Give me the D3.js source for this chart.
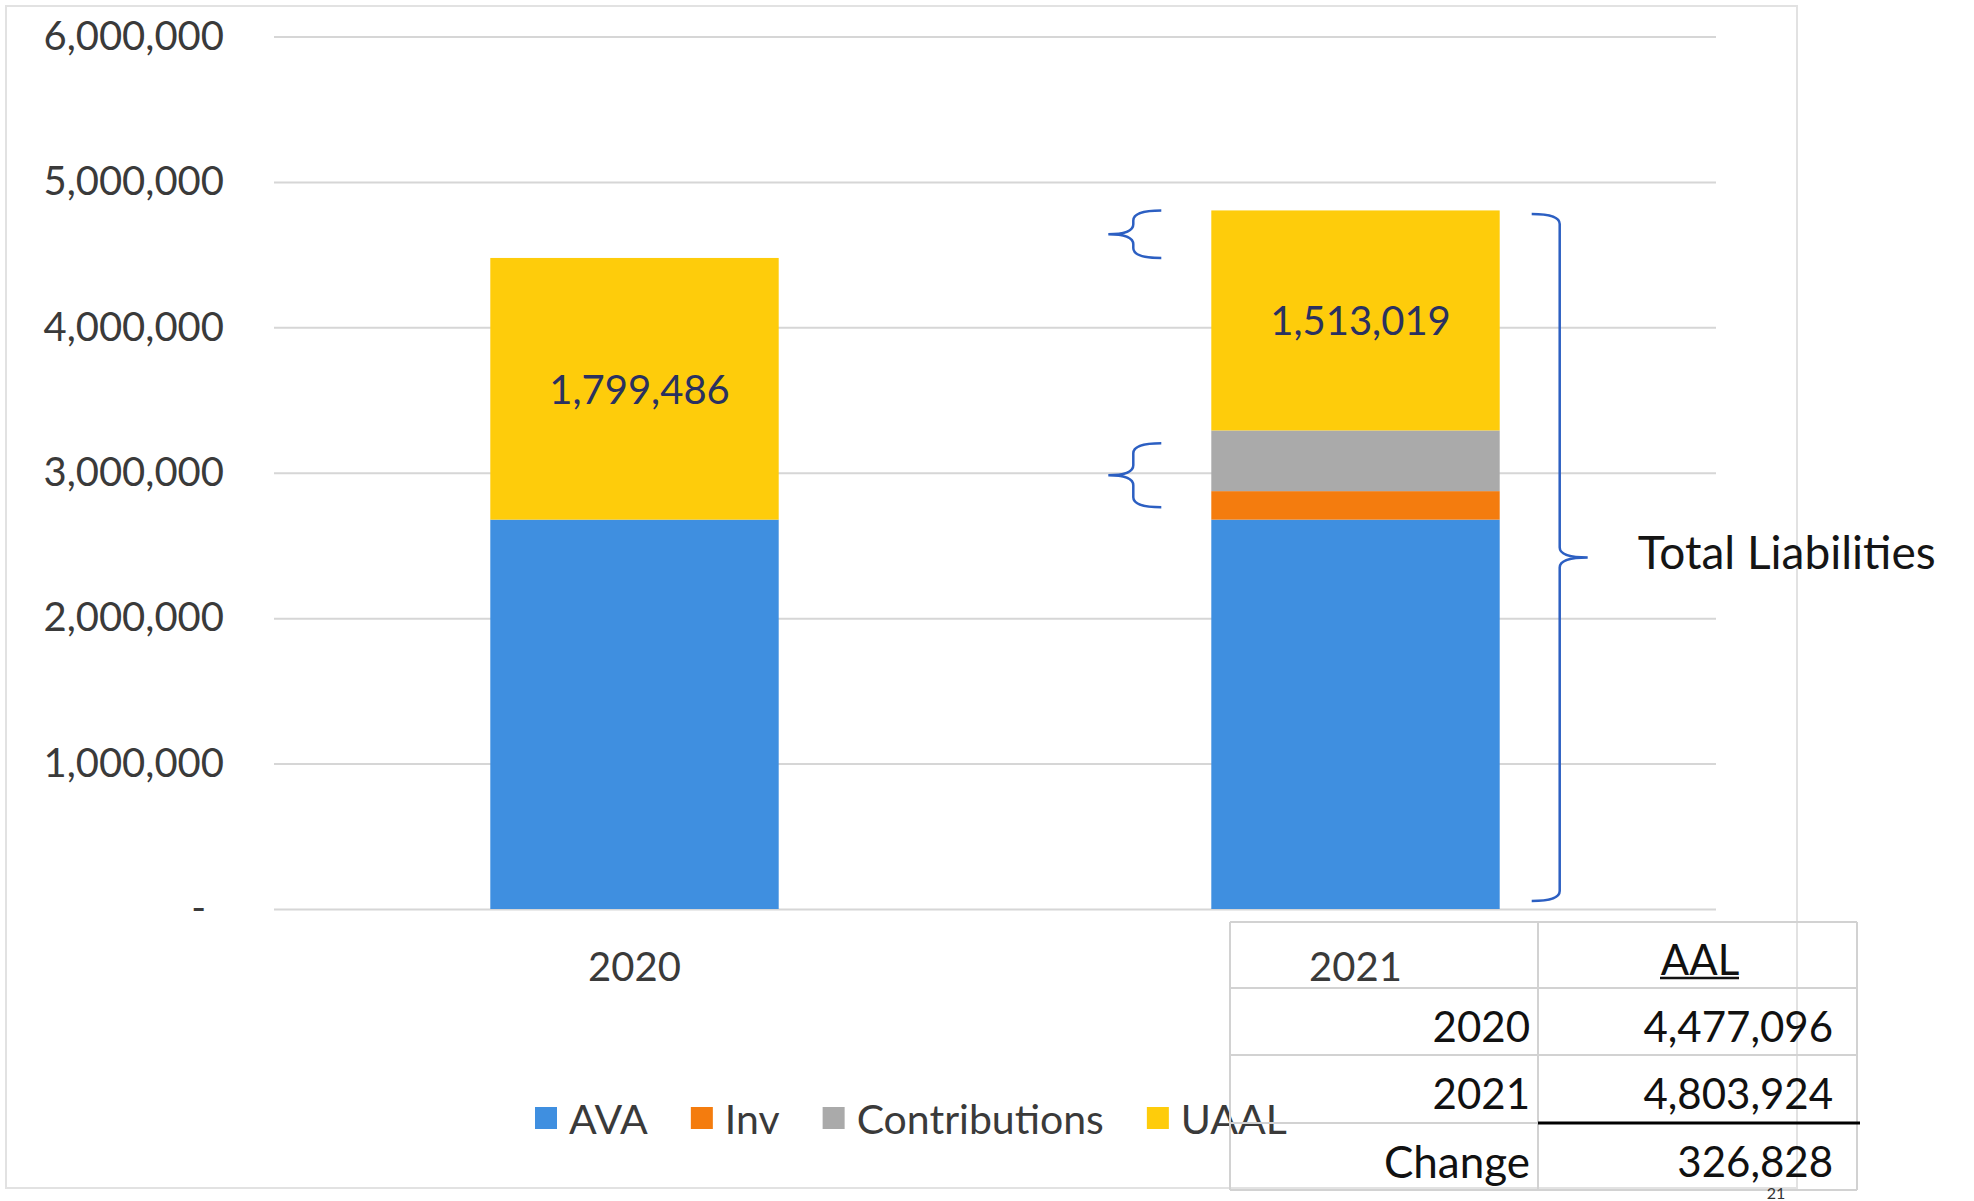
<!DOCTYPE html>
<html>
<head>
<meta charset="utf-8">
<script src="https://cdn.jsdelivr.net/npm/d3@7"></script>
<style>
  body { margin: 0; background: #ffffff; }
  text { font-family: Lato, "Open Sans", "Liberation Sans", sans-serif; }
</style>
</head>
<body>
<svg id="chart" width="1974" height="1201"></svg>
<script>
// ---- data ----
const years = ["2020", "2021"];
const seriesNames = ["AVA", "Inv", "Contributions", "UAAL"];
const ava = [2677610, 2677610];
const inv = [0, 196000];
const contributions = [0, 417295];
const uaal = [1799486, 1513019];
const seriesColors = ["#3f8fe0", "#f47c0e", "#aaaaaa", "#fecc0b"];
const yTicks = [0, 1000000, 2000000, 3000000, 4000000, 5000000, 6000000];

// AAL summary table
const aalYears = ["2020", "2021"];
const aalValues = [4477096, 4803924];
const changeLabel = "Change";
const changeValue = 326828;

// bracket annotations, in data units [low, high]
const leftBraces = [[4477096, 4803924], [2763000, 3203000]];
const totalBrace = [55000, 4780000];
const totalLabel = "Total Liabilities";
const pageNumber = "21";

// ---- layout ----
const svg = d3.select("#chart");
const plot = { left: 274, right: 1716, top: 36.5, bottom: 909 };

const x = d3.scaleBand().domain(years)
  .range([plot.left, plot.right]).paddingInner(0.6).paddingOuter(0.3);
const y = d3.scaleLinear().domain([0, 6000000]).range([plot.bottom, plot.top]);

const rows = years.map((yr, i) => ({
  year: yr, AVA: ava[i], Inv: inv[i], Contributions: contributions[i], UAAL: uaal[i]
}));
const stacked = d3.stack().keys(seriesNames)(rows);
const color = d3.scaleOrdinal().domain(seriesNames).range(seriesColors);

// outer chart frame
svg.append("rect")
  .attr("x", 6).attr("y", 6).attr("width", 1791).attr("height", 1182)
  .attr("fill", "none").attr("stroke", "#e2e2e2").attr("stroke-width", 2);

// gridlines + y labels
const yAxis = d3.axisLeft(y).tickValues(yTicks)
  .tickSize(-(plot.right - plot.left)).tickPadding(50)
  .tickFormat(d => d === 0 ? "-" : d3.format(",")(d));
const gy = svg.append("g").attr("transform", `translate(${plot.left},0)`).call(yAxis);
gy.select(".domain").remove();
gy.selectAll(".tick line").attr("stroke", "#d6d6d6").attr("stroke-width", 2);
gy.selectAll(".tick text")
  .attr("fill", "#3a3a3a").attr("font-size", 40)
  .attr("dx", d => d === 0 ? -18 : 0);

// stacked bars
svg.append("g").selectAll("g").data(stacked).join("g")
  .attr("fill", d => color(d.key))
  .selectAll("rect").data(d => d).join("rect")
  .attr("x", d => x(d.data.year))
  .attr("width", x.bandwidth())
  .attr("y", d => y(d[1]))
  .attr("height", d => y(d[0]) - y(d[1]));

// UAAL data labels
const uaalLayer = stacked.find(s => s.key === "UAAL");
svg.append("g").selectAll("text").data(uaalLayer).join("text")
  .attr("x", d => x(d.data.year) + x.bandwidth() / 2 + 5)
  .attr("y", d => (y(d[0]) + y(d[1])) / 2)
  .attr("text-anchor", "middle").attr("dominant-baseline", "central")
  .attr("font-size", 40).attr("fill", "#2a3160")
  .text(d => d3.format(",")(d.data.UAAL));

// x labels
const xAxis = d3.axisBottom(x).tickSize(0).tickPadding(44);
const gx = svg.append("g").attr("transform", `translate(0,${plot.bottom})`).call(xAxis);
gx.select(".domain").remove();
gx.selectAll(".tick text").attr("fill", "#3a3a3a").attr("font-size", 40);

// braces
const braceColor = "#2c5fc2";
function braceLeft(stemX, tipX, armX, y1, y2) {
  const ym = (y1 + y2) / 2, r = Math.min(10, (y2 - y1) / 4);
  return `M${armX},${y1} Q${stemX},${y1} ${stemX},${y1 + r} L${stemX},${ym - r}
          Q${stemX},${ym} ${tipX},${ym} Q${stemX},${ym} ${stemX},${ym + r}
          L${stemX},${y2 - r} Q${stemX},${y2} ${armX},${y2}`;
}
const bx21 = x("2021");
svg.append("g").selectAll("path").data(leftBraces).join("path")
  .attr("d", d => braceLeft(bx21 - 78, bx21 - 103, bx21 - 50, y(d[1]), y(d[0])))
  .attr("fill", "none").attr("stroke", braceColor).attr("stroke-width", 2.5);

const bxR = bx21 + x.bandwidth();
svg.append("path")
  .attr("d", braceLeft(bxR + 60, bxR + 88, bxR + 32, y(totalBrace[1]), y(totalBrace[0])))
  .attr("fill", "none").attr("stroke", braceColor).attr("stroke-width", 2.5);

svg.append("text")
  .attr("x", bxR + 138).attr("y", (y(totalBrace[1]) + y(totalBrace[0])) / 2 - 6)
  .attr("dominant-baseline", "central")
  .attr("font-size", 46).attr("fill", "#151515")
  .text(totalLabel);

// legend
const legend = svg.append("g").attr("transform", "translate(535,1118)");
let lx = 0;
seriesNames.forEach((name, i) => {
  const item = legend.append("g").attr("transform", `translate(${lx},0)`);
  item.append("rect").attr("x", 0).attr("y", -11).attr("width", 22).attr("height", 22)
    .attr("fill", seriesColors[i]);
  const t = item.append("text").attr("x", 34).attr("y", 0)
    .attr("dominant-baseline", "central")
    .attr("font-size", 41).attr("fill", "#3a3a3a").text(name);
  lx += 34 + t.node().getComputedTextLength() + 43;
});

// AAL table
const tbl = { left: 1230, mid: 1538, right: 1857, rowsY: [922, 988, 1055, 1123, 1190] };
const tg = svg.append("g");
const gridStroke = "#d2d2d2";
tbl.rowsY.forEach(ry => tg.append("line")
  .attr("x1", tbl.left).attr("x2", tbl.right).attr("y1", ry).attr("y2", ry)
  .attr("stroke", gridStroke).attr("stroke-width", 2));
[tbl.left, tbl.mid, tbl.right].forEach(cx => tg.append("line")
  .attr("x1", cx).attr("x2", cx).attr("y1", tbl.rowsY[0]).attr("y2", tbl.rowsY[4])
  .attr("stroke", gridStroke).attr("stroke-width", 2));

const rowMid = i => tbl.rowsY[i] + (tbl.rowsY[i + 1] - tbl.rowsY[i]) * 0.56;
// header
tg.append("text").attr("x", 1700).attr("y", rowMid(0))
  .attr("text-anchor", "middle").attr("dominant-baseline", "central")
  .attr("font-size", 42).attr("fill", "#111").text("AAL");
tg.append("line").attr("x1", 1660).attr("x2", 1739).attr("y1", 978).attr("y2", 978)
  .attr("stroke", "#111").attr("stroke-width", 2.5);

const bodyRows = aalYears.map((yr, i) => [yr, aalValues[i]]).concat([[changeLabel, changeValue]]);
bodyRows.forEach((r, i) => {
  tg.append("text").attr("x", tbl.mid - 8).attr("y", rowMid(i + 1))
    .attr("text-anchor", "end").attr("dominant-baseline", "central")
    .attr("font-size", i === 2 ? 44 : 42).attr("fill", "#111").text(r[0]);
  tg.append("text").attr("x", tbl.right - 24).attr("y", rowMid(i + 1))
    .attr("text-anchor", "end").attr("dominant-baseline", "central")
    .attr("font-size", 42).attr("fill", "#111").text(d3.format(",")(r[1]));
});
// total rule above the change row
tg.append("line").attr("x1", tbl.mid).attr("x2", tbl.right + 3)
  .attr("y1", tbl.rowsY[3]).attr("y2", tbl.rowsY[3])
  .attr("stroke", "#000").attr("stroke-width", 3);

// page number
svg.append("text").attr("x", 1776).attr("y", 1199)
  .attr("text-anchor", "middle").attr("font-size", 16).attr("fill", "#333")
  .text(pageNumber);
</script>
</body>
</html>
